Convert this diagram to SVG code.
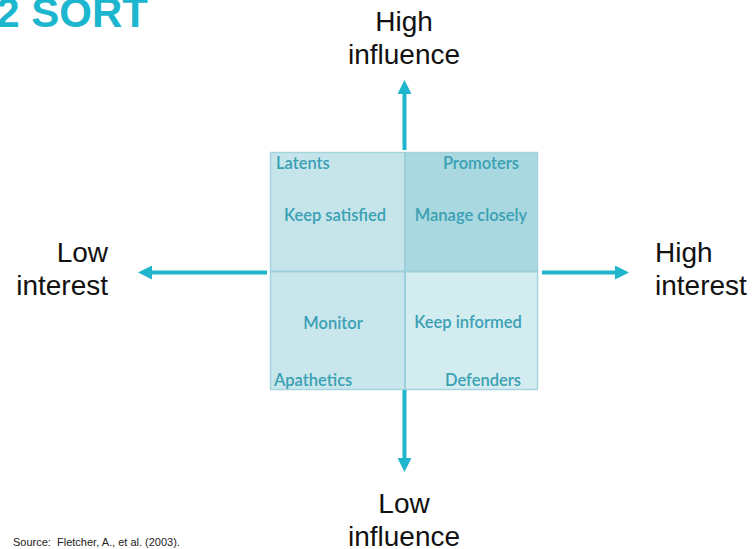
<svg xmlns="http://www.w3.org/2000/svg" width="753" height="549" viewBox="0 0 753 549">
<style>
.axis{font-family:"Liberation Sans",Arial,sans-serif;font-size:28px;fill:#111}
.q{font-family:Lato,"Open Sans",sans-serif;font-size:16.5px;font-weight:600;fill:#3aa0b3}
.conn{stroke:#1fb5cc;stroke-width:4;fill:none;marker-end:url(#ah)}
.div{stroke:#9ccfd9;stroke-width:2;fill:none}
</style>
<defs>
<marker id="ah" markerUnits="userSpaceOnUse" markerWidth="14" markerHeight="14" refX="1" refY="7" orient="auto">
<path d="M0,0 L14,7 L0,14 z" fill="#1fb5cc"/>
</marker>
</defs>
<rect width="753" height="549" fill="#fff"/>
<text x="148" y="27" text-anchor="end" font-family="Liberation Sans,Arial,sans-serif" font-weight="bold" font-size="42" fill="#1db6cf">2 SORT</text>
<g id="grid">
<rect id="q-tl" x="270" y="152" width="135" height="120" fill="#c6e5eb"/>
<rect id="q-tr" x="405" y="152" width="133" height="120" fill="#a9d8e0"/>
<rect id="q-bl" x="270" y="272" width="135" height="118" fill="#c9e6ec"/>
<rect id="q-br" x="405" y="272" width="133" height="118" fill="#d3ecf0"/>
<rect x="270.5" y="152.5" width="267" height="237" fill="none" stroke="#a6d4dd" stroke-width="1.5"/>
<line class="div" x1="405" y1="152" x2="405" y2="390"/>
<line class="div" x1="270" y1="271.5" x2="538" y2="271.5"/>
</g>
<g id="latents"><text class="q" x="276" y="169">Latents</text></g>
<g id="promoters"><text class="q" x="481" y="169" text-anchor="middle">Promoters</text></g>
<g id="keep-satisfied"><text class="q" x="335" y="221" text-anchor="middle">Keep satisfied</text></g>
<g id="manage-closely"><text class="q" x="471" y="221" text-anchor="middle">Manage closely</text></g>
<g id="monitor"><text class="q" x="333" y="329" text-anchor="middle">Monitor</text></g>
<g id="keep-informed"><text class="q" x="468" y="328" text-anchor="middle">Keep informed</text></g>
<g id="apathetics"><text class="q" x="274" y="386">Apathetics</text></g>
<g id="defenders"><text class="q" x="483" y="386" text-anchor="middle">Defenders</text></g>
<g id="connectors">
<line class="conn" x1="404.5" y1="150" x2="404.5" y2="93"/>
<line class="conn" x1="404.5" y1="390" x2="404.5" y2="459"/>
<line class="conn" x1="267" y1="272.5" x2="151" y2="272.5"/>
<line class="conn" x1="542" y1="272.5" x2="616" y2="272.5"/>
</g>
<g id="high-influence"><text class="axis" x="404" y="31" text-anchor="middle">High</text><text class="axis" x="404" y="64" text-anchor="middle">influence</text></g>
<g id="low-influence"><text class="axis" x="404" y="513" text-anchor="middle">Low</text><text class="axis" x="404" y="546" text-anchor="middle">influence</text></g>
<g id="low-interest"><text class="axis" x="108" y="262" text-anchor="end">Low</text><text class="axis" x="108" y="295" text-anchor="end">interest</text></g>
<g id="high-interest"><text class="axis" x="655" y="262">High</text><text class="axis" x="655" y="295">interest</text></g>
<text x="13" y="546" font-family="Liberation Sans,Arial,sans-serif" font-size="11" fill="#222">Source:&#160; Fletcher, A., et al. (2003).</text>
</svg>
